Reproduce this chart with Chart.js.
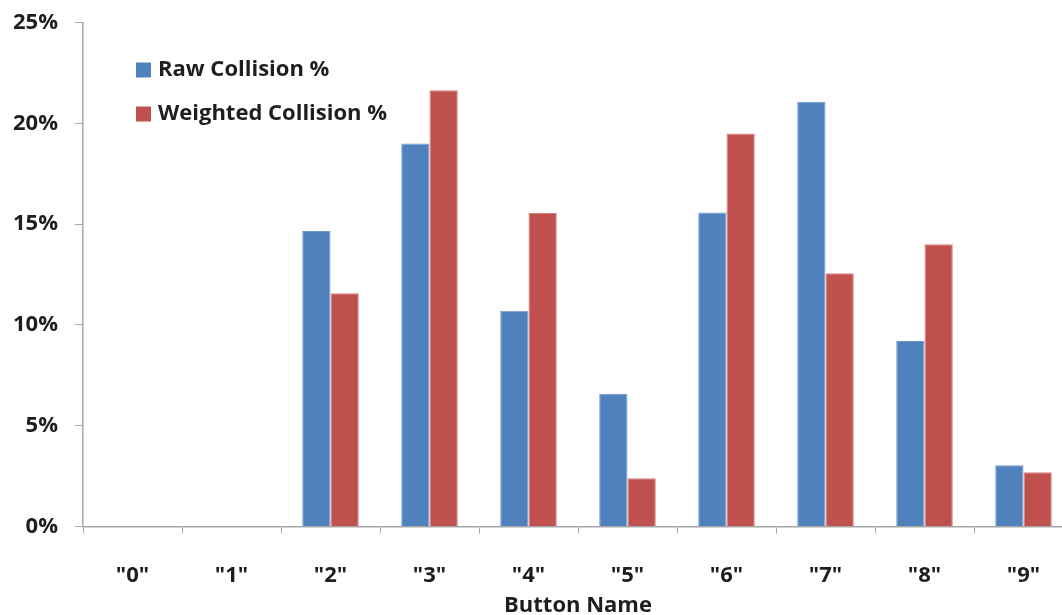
<!DOCTYPE html>
<html>
<head>
<meta charset="utf-8">
<script src="https://cdn.jsdelivr.net/npm/chart.js@4/dist/chart.umd.min.js"></script>
<style>
  html, body { margin: 0; padding: 0; background: #fff; overflow: hidden; }
  /* l'area del grafico prosegue un poco oltre il bordo destro della finestra */
  #wrap { width: 1073px; height: 615px; position: relative; }
</style>
</head>
<body>
<div id="wrap"><canvas id="graficoTasti"></canvas></div>
<script>
// categorie e serie (percentuali)
const tasti = ['"0"', '"1"', '"2"', '"3"', '"4"', '"5"', '"6"', '"7"', '"8"', '"9"'];
const collisioniGrezze = [0, 0, 14.66, 19.0, 10.7, 6.59, 15.58, 21.07, 9.2, 3.04];
const collisioniPesate = [0, 0, 11.57, 21.64, 15.55, 2.39, 19.5, 12.56, 14.0, 2.69];
const tickY = [0, 5, 10, 15, 20, 25];

const font = '"Open Sans", "Liberation Sans", sans-serif';
const testo = '#1e1e1e';
const grigioAsse = '#a6a6a6';

// legenda disegnata dentro l'area del grafico, in alto a sinistra
const legendaInterna = {
    id: 'legendaInterna',
    afterDraw(chart) {
        const ctx = chart.ctx;
        const area = chart.chartArea;
        ctx.save();
        ctx.font = 'bold 22px ' + font;
        ctx.textBaseline = 'middle';
        chart.data.datasets.forEach((ds, i) => {
            const y = 70 + i * 44;
            ctx.fillStyle = ds.backgroundColor;
            ctx.fillRect(area.left + 53, y - 7.5, 15, 15);
            ctx.fillStyle = testo;
            ctx.fillText(ds.label, area.left + 75, y);
        });
        ctx.restore();
    }
};

const ctx = document.getElementById('graficoTasti').getContext('2d');
const grafico = new Chart(ctx, {
    type: 'bar',
    data: {
        labels: tasti,
        datasets: [
            {
                label: 'Raw Collision %',
                data: collisioniGrezze,
                backgroundColor: '#4f81bd',
                borderColor: '#6f9bd0',
                borderWidth: { top: 1, left: 1, right: 1, bottom: 0 }
            },
            {
                label: 'Weighted Collision %',
                data: collisioniPesate,
                backgroundColor: '#c0504d',
                borderColor: '#d8807d',
                borderWidth: { top: 1, left: 1, right: 1, bottom: 0 }
            }
        ]
    },
    options: {
        responsive: true,
        maintainAspectRatio: false,
        animation: false,
        layout: { padding: { top: 22.5, right: 0, left: 0, bottom: 0 } },
        plugins: {
            legend: { display: false },
            tooltip: { enabled: false }
        },
        datasets: {
            bar: { categoryPercentage: 0.5714, barPercentage: 1 }
        },
        scales: {
            x: {
                afterFit(scala) { scala.height = 88.5; },
                grid: {
                    drawOnChartArea: false,
                    drawTicks: true,
                    tickLength: 7,
                    color: grigioAsse
                },
                border: { display: true, color: grigioAsse, width: 1.5 },
                ticks: {
                    color: testo,
                    font: { family: font, size: 22, weight: 'bold' },
                    padding: 29
                },
                title: {
                    display: true,
                    text: 'Button Name',
                    color: testo,
                    font: { family: font, size: 22, weight: 'bold', lineHeight: 1 },
                    padding: { top: 0, bottom: -2 }
                }
            },
            y: {
                min: 0,
                max: 25,
                afterFit(scala) {
                    scala.width = 83;
                    scala.paddingTop = 0;
                    scala.paddingBottom = 0;
                },
                afterBuildTicks(scala) { scala.ticks = tickY.map(v => ({ value: v })); },
                grid: {
                    drawOnChartArea: false,
                    drawTicks: true,
                    tickLength: 8,
                    color: grigioAsse
                },
                border: { display: true, color: grigioAsse, width: 1.5 },
                ticks: {
                    color: testo,
                    font: { family: font, size: 22, weight: 'bold' },
                    padding: 17,
                    callback: v => v + '%'
                }
            }
        }
    },
    plugins: [legendaInterna]
});
</script>
</body>
</html>
